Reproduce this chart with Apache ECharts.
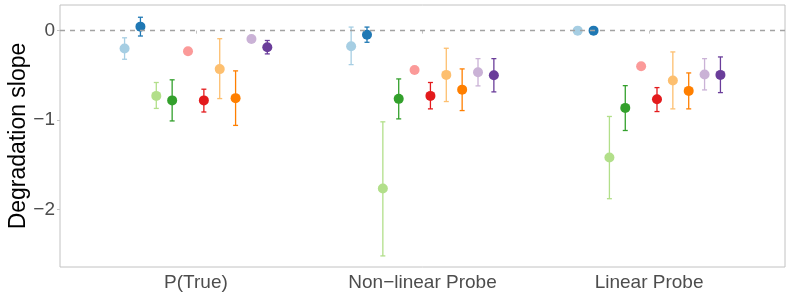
<!DOCTYPE html>
<html>
<head>
<meta charset="utf-8">
<script src="https://cdn.jsdelivr.net/npm/echarts@6/dist/echarts.min.js"></script>
<style>
  html, body { margin: 0; padding: 0; background: #ffffff; }
  #chart { width: 793px; height: 299px; }
</style>
</head>
<body>
<div id="chart"></div>
<script>
// ---- Data ----
const categories = ['P(True)', 'Non\u2212linear Probe', 'Linear Probe'];
const yTickValues = [-2, -1, 0];
const yTickLabels = ['\u22122', '\u22121', '0'];
const colors = ['#A6CEE3', '#1F78B4', '#B2DF8A', '#33A02C', '#FB9A99',
                '#E31A1C', '#FDBF6F', '#FF7F00', '#CAB2D6', '#6A3D9A'];

// P(True)
const ptrueMean = [-0.20, 0.045, -0.73, -0.78, -0.23, -0.78, -0.43, -0.755, -0.093, -0.186];
const ptrueLow  = [-0.32, -0.06, -0.87, -1.01, null, -0.91, -0.76, -1.06, null, -0.26];
const ptrueHigh = [-0.08, 0.15, -0.58, -0.55, null, -0.655, -0.09, -0.45, null, -0.11];
// Non-linear Probe
const nonlinMean = [-0.175, -0.045, -1.765, -0.763, -0.44, -0.73, -0.495, -0.66, -0.465, -0.498];
const nonlinLow  = [-0.38, -0.13, -2.52, -0.987, null, -0.875, -0.793, -0.894, -0.618, -0.685];
const nonlinHigh = [0.04, 0.04, -1.02, -0.54, null, -0.58, -0.197, -0.428, -0.313, -0.313];
// Linear Probe
const linMean = [0.0, 0.0, -1.42, -0.864, -0.398, -0.767, -0.558, -0.674, -0.49, -0.495];
const linLow  = [null, null, -1.88, -1.117, null, -0.905, -0.875, -0.875, -0.663, -0.693];
const linHigh = [null, null, -0.96, -0.615, null, -0.637, -0.238, -0.473, -0.313, -0.294];

// ---- Build options ----
const groups = [
  { mean: ptrueMean, low: ptrueLow, high: ptrueHigh },
  { mean: nonlinMean, low: nonlinLow, high: nonlinHigh },
  { mean: linMean, low: linLow, high: linHigh }
];
const nSeries = colors.length;
const dodgeWidth = 0.7;
function dodgeX(groupIdx, seriesIdx) {
  const step = dodgeWidth / nSeries;
  return (groupIdx + 1) + (seriesIdx - (nSeries - 1) / 2) * step;
}

const FONT = 'Liberation Sans, Arial, Helvetica, sans-serif';
const series = [];

for (let s = 0; s < nSeries; s++) {
  const errData = [];
  const ptData = [];
  groups.forEach((g, gi) => {
    const x = dodgeX(gi, s);
    ptData.push([x, g.mean[s]]);
    if (g.low[s] !== null && g.high[s] !== null) {
      errData.push([x, g.low[s], g.high[s]]);
    }
  });
  series.push({
    type: 'custom',
    name: 'err' + s,
    z: 2,
    silent: true,
    data: errData,
    encode: { x: 0, y: [1, 2] },
    renderItem: function (params, api) {
      const x = api.value(0);
      const lo = api.coord([x, api.value(1)]);
      const hi = api.coord([x, api.value(2)]);
      const cap = 2.5;
      const style = { stroke: colors[s], lineWidth: 1.3, fill: null };
      return {
        type: 'group',
        children: [
          { type: 'line', shape: { x1: lo[0], y1: lo[1], x2: hi[0], y2: hi[1] }, style: style },
          { type: 'line', shape: { x1: hi[0] - cap, y1: hi[1], x2: hi[0] + cap, y2: hi[1] }, style: style },
          { type: 'line', shape: { x1: lo[0] - cap, y1: lo[1], x2: lo[0] + cap, y2: lo[1] }, style: style }
        ]
      };
    }
  });
  series.push({
    type: 'scatter',
    name: 'pt' + s,
    z: 3,
    silent: true,
    symbol: 'circle',
    symbolSize: 10,
    itemStyle: { color: colors[s], opacity: 1 },
    data: ptData
  });
}

// dashed reference line at 0, drawn on top
series.push({
  type: 'line',
  name: 'ref',
  data: [],
  z: 10,
  silent: true,
  markLine: {
    silent: true,
    symbol: ['none', 'none'],
    label: { show: false },
    lineStyle: { color: '#a3a3a3', type: [5, 5], width: 1.4 },
    emphasis: { disabled: true },
    data: [{ yAxis: 0 }],
    animation: false
  }
});

const option = {
  animation: false,
  backgroundColor: '#ffffff',
  grid: {
    left: 60, right: 8, top: 5, bottom: 32,
    show: true, borderColor: '#c2c2c2', borderWidth: 1,
    backgroundColor: 'transparent',
    containLabel: false,
    outerBoundsMode: 'none'
  },
  xAxis: {
    type: 'value',
    min: 0.4,
    max: 3.6,
    axisLine: { show: false },
    splitLine: { show: false },
    axisTick: { show: true, customValues: [1, 2, 3], length: 3, lineStyle: { color: '#c2c2c2' } },
    axisLabel: {
      customValues: [1, 2, 3],
      formatter: v => categories[Math.round(v) - 1] || '',
      color: '#4D4D4D', fontSize: 19, fontFamily: FONT, margin: 6
    }
  },
  yAxis: {
    type: 'value',
    min: -2.644,
    max: 0.287,
    name: 'Degradation slope',
    nameLocation: 'middle',
    nameGap: 30,
    nameMoveOverlap: false,
    nameTextStyle: { color: '#000000', fontSize: 23, fontFamily: FONT },
    axisLine: { show: false },
    splitLine: { show: false },
    axisTick: { show: true, customValues: yTickValues, length: 3, lineStyle: { color: '#c2c2c2' } },
    axisLabel: {
      customValues: yTickValues,
      formatter: v => {
        const i = yTickValues.indexOf(Math.round(v));
        return i >= 0 ? yTickLabels[i] : '';
      },
      color: '#4D4D4D', fontSize: 19, fontFamily: FONT, margin: 5
    }
  },
  series: series
};

const chart = echarts.init(document.getElementById('chart'), null, { renderer: 'canvas' });
chart.setOption(option);
</script>
</body>
</html>
